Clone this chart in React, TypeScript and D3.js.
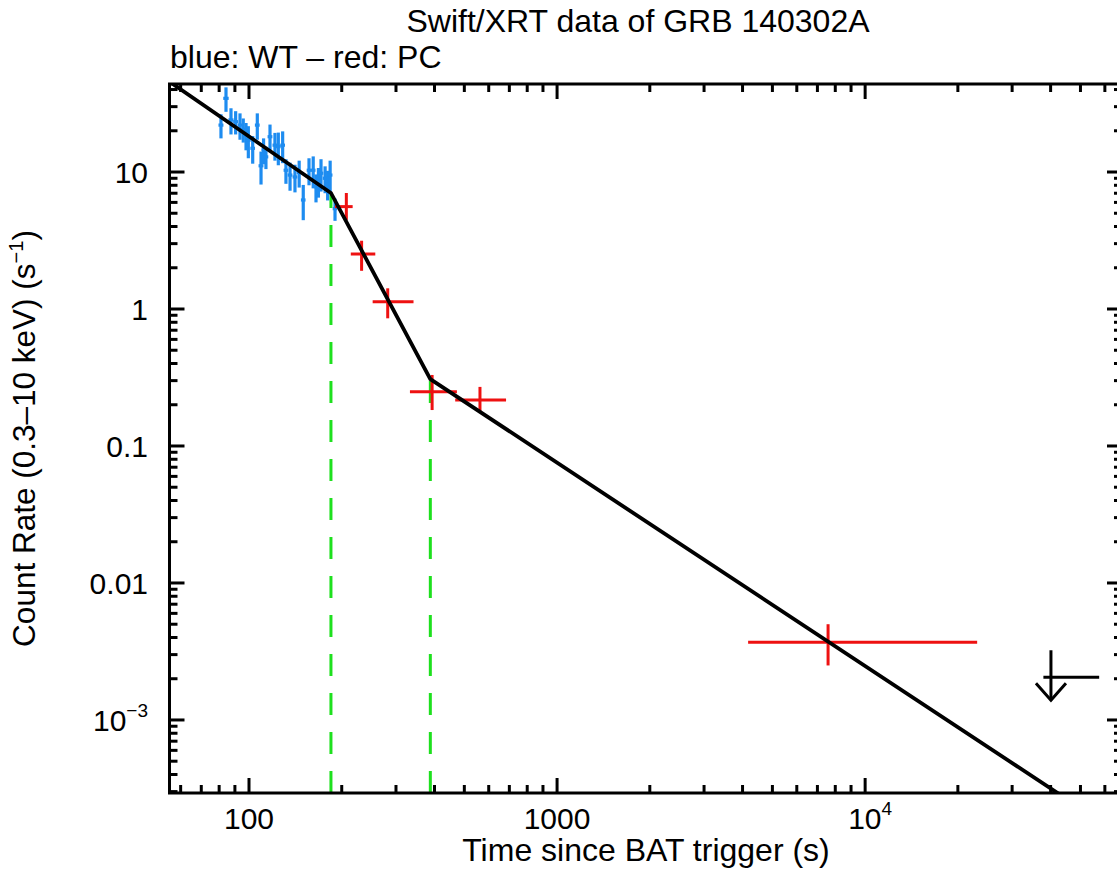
import React from 'react';
import * as d3 from 'd3';

const W = 1117;
const H = 877;
const PLOT = { left: 169.5, right: 1122, top: 84, bottom: 793 };

const xDomain = [55.2, 68200];
const yDomain = [2.93e-4, 43.9];

const titleText = 'Swift/XRT data of GRB 140302A';
const subtitleText = 'blue: WT \u2013 red: PC';
const xAxisLabel = 'Time since BAT trigger (s)';

const xMajorTicks = [100, 1000, 10000];
const xTickBase = ['100', '1000', '10'];
const xTickExp = ['', '', '4'];
const yMajorTicks = [10, 1, 0.1, 0.01, 0.001];
const yTickBase = ['10', '1', '0.1', '0.01', '10'];
const yTickExp = ['', '', '', '', '\u22123'];

// WT mode (blue)
const wtTime = [81.1, 84.2, 87.4, 90.5, 93.5, 95.8, 97.8, 99.5, 102.8, 106.4, 109.4, 111.5, 113.5, 117.0, 121.4, 124.5, 128.6, 131.8, 135.9, 141.0, 145.5, 150.0, 156.6, 161.6, 165.0, 168.0, 171.3, 176.6, 180.0, 183.4, 190.2];
const wtTimeErr = [1.5, 1.7, 1.7, 1.7, 1.7, 1.5, 1.5, 1.8, 1.8, 1.9, 2.0, 1.8, 2.0, 2.1, 2.2, 2.2, 2.3, 2.3, 2.4, 2.5, 2.5, 2.6, 2.7, 2.8, 2.8, 2.9, 3.0, 3.0, 3.1, 3.2, 3.3];
const wtRate = [22.0, 34.5, 24.0, 23.3, 22.0, 20.5, 18.6, 17.1, 14.9, 22.0, 11.1, 14.5, 12.9, 18.1, 15.7, 15.3, 15.7, 10.3, 9.5, 9.2, 9.9, 6.25, 10.3, 10.3, 7.8, 8.6, 9.8, 9.0, 8.2, 9.5, 5.4];
const wtRateErr = [4.4, 7.0, 5.2, 4.5, 4.8, 4.1, 4.2, 4.5, 3.4, 4.8, 3.0, 3.1, 2.4, 4.1, 3.6, 4.1, 4.1, 2.1, 2.2, 2.1, 2.2, 1.8, 2.3, 2.7, 1.8, 2.1, 2.6, 2.0, 2.0, 2.6, 1.0];

// PC mode (red)
const pcTime = [207, 232, 282, 393, 562, 7580];
const pcTimeLo = [190, 214, 252, 333, 467, 4170];
const pcTimeHi = [217, 257, 342, 473, 683, 23100];
const pcRate = [5.59, 2.52, 1.13, 0.249, 0.217, 0.0037];
const pcRateLo = [4.47, 1.9, 0.855, 0.183, 0.177, 0.0025];
const pcRateHi = [7.03, 3.15, 1.416, 0.33, 0.27, 0.005];

// PC upper limit
const ulTime = [40100];
const ulTimeLo = [37900];
const ulTimeHi = [57500];
const ulRate = [2.05e-3];

// Broken power-law model (vertices in log-log)
const modelTime = [55, 184.5, 387.8, 68000];
const modelRate = [45.9, 7.03, 0.308, 1.44e-4];
const breakTimes = [184.5, 387.8];
const breakRates = [7.03, 0.308];

const FONT = 'Liberation Sans, Arial, Helvetica, sans-serif';
const BLUE = '#1e8cf0';
const RED = '#ee1111';
const GREEN = '#1ee01e';

export default function App() {
  const x = d3.scaleLog().domain(xDomain).range([PLOT.left, PLOT.right]);
  const y = d3.scaleLog().domain(yDomain).range([PLOT.bottom, PLOT.top]);

  const isMajor = (v: number) => Math.abs(Math.log10(v) - Math.round(Math.log10(v))) < 1e-6;
  const xTicks = x.ticks();
  const yTicks = y.ticks();
  const MAJ = 15;
  const MIN = 8;

  const line = d3
    .line<number>()
    .x((_, i) => x(modelTime[i]))
    .y((_, i) => y(modelRate[i]));

  return (
    <svg width={W} height={H} style={{ position: 'absolute', left: 0, top: 0, background: '#fff' }} fontFamily={FONT}>
      <defs>
        <clipPath id="plotclip">
          <rect x={PLOT.left} y={PLOT.top} width={PLOT.right - PLOT.left} height={PLOT.bottom - PLOT.top} />
        </clipPath>
      </defs>
      <rect x={0} y={0} width={W} height={H} fill="#fff" />

      {/* Titles */}
      <text x={638} y={32} fontSize={32} textAnchor="middle">{titleText}</text>
      <text x={170} y={68} fontSize={32} textAnchor="start">{subtitleText}</text>

      {/* Green dashed break lines */}
      {breakTimes.map((t, i) => (
        <line key={'g' + i} x1={x(t)} x2={x(t)} y1={PLOT.bottom} y2={y(breakRates[i])} stroke={GREEN} strokeWidth={3} strokeDasharray="22 17" />
      ))}

      {/* WT data */}
      {wtTime.map((t, i) => (
        <g key={'wt' + i} stroke={BLUE} strokeWidth={3.2}>
          <line x1={x(t)} x2={x(t)} y1={y(wtRate[i] - wtRateErr[i])} y2={y(wtRate[i] + wtRateErr[i])} />
          <line x1={x(t - wtTimeErr[i])} x2={x(t + wtTimeErr[i])} y1={y(wtRate[i])} y2={y(wtRate[i])} />
        </g>
      ))}

      {/* PC data */}
      {pcTime.map((t, i) => (
        <g key={'pc' + i} stroke={RED} strokeWidth={3}>
          <line x1={x(t)} x2={x(t)} y1={y(pcRateLo[i])} y2={y(pcRateHi[i])} />
          <line x1={x(pcTimeLo[i])} x2={x(pcTimeHi[i])} y1={y(pcRate[i])} y2={y(pcRate[i])} />
        </g>
      ))}

      {/* Model */}
      <path d={line(modelTime) || ''} fill="none" stroke="#000" strokeWidth={3.8} clipPath="url(#plotclip)" />

      {/* Upper limit */}
      {ulTime.map((t, i) => {
        const cx = x(t);
        const cy = y(ulRate[i]);
        return (
          <g key={'ul' + i} stroke="#000" strokeWidth={3} fill="none">
            <line x1={x(ulTimeLo[i])} x2={x(ulTimeHi[i])} y1={cy} y2={cy} />
            <line x1={cx} x2={cx} y1={cy - 27} y2={cy + 23} />
            <polyline points={`${cx - 15},${cy + 6} ${cx},${cy + 23} ${cx + 15},${cy + 6}`} />
          </g>
        );
      })}

      {/* Frame */}
      <rect x={PLOT.left} y={PLOT.top} width={PLOT.right - PLOT.left} height={PLOT.bottom - PLOT.top} fill="none" stroke="#000" strokeWidth={3} />

      {/* X ticks */}
      {xTicks.map((v, i) => {
        const len = isMajor(v) ? MAJ : MIN;
        const px = x(v);
        return (
          <g key={'xt' + i} stroke="#000" strokeWidth={3}>
            <line x1={px} x2={px} y1={PLOT.bottom} y2={PLOT.bottom - len} />
            <line x1={px} x2={px} y1={PLOT.top} y2={PLOT.top + len} />
          </g>
        );
      })}
      {/* Y ticks */}
      {yTicks.map((v, i) => {
        const len = isMajor(v) ? MAJ : MIN;
        const py = y(v);
        return (
          <g key={'yt' + i} stroke="#000" strokeWidth={3}>
            <line x1={PLOT.left} x2={PLOT.left + len} y1={py} y2={py} />
            <line x1={PLOT.right} x2={PLOT.right - len} y1={py} y2={py} />
          </g>
        );
      })}

      {/* X tick labels */}
      {xMajorTicks.map((v, i) => (
        <text key={'xl' + i} x={x(v) + (xTickExp[i] ? 5 : 0)} y={829} fontSize={30} textAnchor="middle">
          {xTickBase[i]}
          {xTickExp[i] ? (
            <tspan fontSize={19} dy={-14}>{xTickExp[i]}</tspan>
          ) : null}
        </text>
      ))}

      {/* Y tick labels */}
      {yMajorTicks.map((v, i) => (
        <text key={'yl' + i} x={148} y={y(v) + 11} fontSize={30} textAnchor="end">
          {yTickBase[i]}
          {yTickExp[i] ? (
            <tspan fontSize={19} dy={-14}>{yTickExp[i]}</tspan>
          ) : null}
        </text>
      ))}

      {/* Axis labels */}
      <text x={646} y={861} fontSize={32} textAnchor="middle">{xAxisLabel}</text>
      <text transform={`translate(35, ${(PLOT.top + PLOT.bottom) / 2}) rotate(-90)`} fontSize={31.5} textAnchor="middle">
        Count Rate (0.3{'\u2013'}10 keV) (s
        <tspan fontSize={20} dy={-12}>{'\u22121'}</tspan>
        <tspan dy={12}>)</tspan>
      </text>
    </svg>
  );
}
